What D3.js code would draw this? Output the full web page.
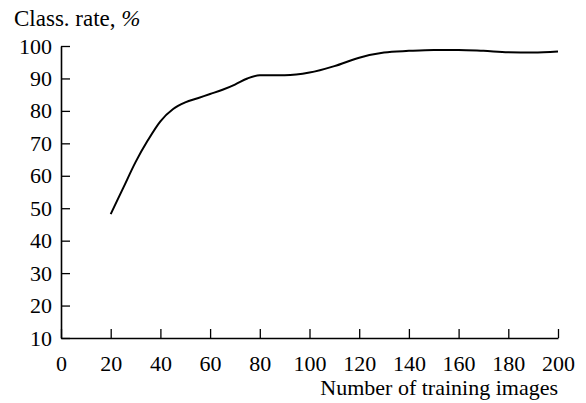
<!DOCTYPE html>
<html>
<head>
<meta charset="utf-8">
<script src="https://cdn.jsdelivr.net/npm/d3@7"></script>
<style>
  body { margin: 0; background: #fff; }
</style>
</head>
<body>
<svg id="chart"></svg>
<script>
// training images vs. classification rate
const images = [20, 25, 30, 35, 40, 45, 50, 55, 60, 65, 70, 75, 80, 90, 100, 110, 120, 130, 140, 150, 160, 170, 180, 190, 200];
const rate   = [48.2, 56.2, 64.2, 71, 76.8, 80.5, 82.6, 83.9, 85.2, 86.5, 88.1, 90, 91, 91, 91.8, 93.8, 96.4, 98, 98.5, 98.8, 98.8, 98.5, 98.1, 98, 98.3];
const xTicks = [0, 20, 40, 60, 80, 100, 120, 140, 160, 180, 200];
const yTicks = [10, 20, 30, 40, 50, 60, 70, 80, 90, 100];

const width = 586, height = 403;
const plotLeft = 61, plotRight = 558, plotTop = 46, plotBottom = 338;
const serif = "'Liberation Serif', 'Times New Roman', Times, serif";

const svg = d3.select('#chart')
    .attr('width', width)
    .attr('height', height);

const x = d3.scaleLinear().domain([0, 200]).range([plotLeft, plotRight]);
const y = d3.scaleLinear().domain([10, 100]).range([plotBottom, plotTop]);

// x axis, ticks pointing inward
svg.append('g')
    .attr('transform', `translate(0,${plotBottom})`)
    .call(d3.axisBottom(x).tickValues(xTicks).tickSizeInner(-9).tickSizeOuter(0).tickPadding(17));

// y axis
svg.append('g')
    .attr('transform', `translate(${plotLeft},0)`)
    .call(d3.axisLeft(y).tickValues(yTicks).tickSizeInner(-9).tickSizeOuter(0).tickPadding(9));

svg.selectAll('g').attr('font-family', serif);
svg.selectAll('.domain').attr('stroke', '#000').attr('stroke-width', 1.6);
svg.selectAll('.tick line').attr('stroke', '#000').attr('stroke-width', 1.3);
svg.selectAll('.tick text').attr('font-family', serif).attr('font-size', 22).attr('fill', '#000');

// labels
const title = svg.append('text')
    .attr('x', 14).attr('y', 26)
    .attr('font-family', serif)
    .attr('font-size', 23);
title.append('tspan').text('Class. rate, ');
title.append('tspan').attr('font-style', 'italic').text('%');

svg.append('text')
    .attr('x', plotRight).attr('y', 395)
    .attr('text-anchor', 'end')
    .attr('font-family', serif)
    .attr('font-size', 22)
    .text('Number of training images');

// curve
const line = d3.line()
    .x((d, i) => x(images[i]))
    .y(d => y(d))
    .curve(d3.curveMonotoneX);

svg.append('path')
    .datum(rate)
    .attr('fill', 'none')
    .attr('stroke', '#000')
    .attr('stroke-width', 2)
    .attr('d', line);
</script>
</body>
</html>
